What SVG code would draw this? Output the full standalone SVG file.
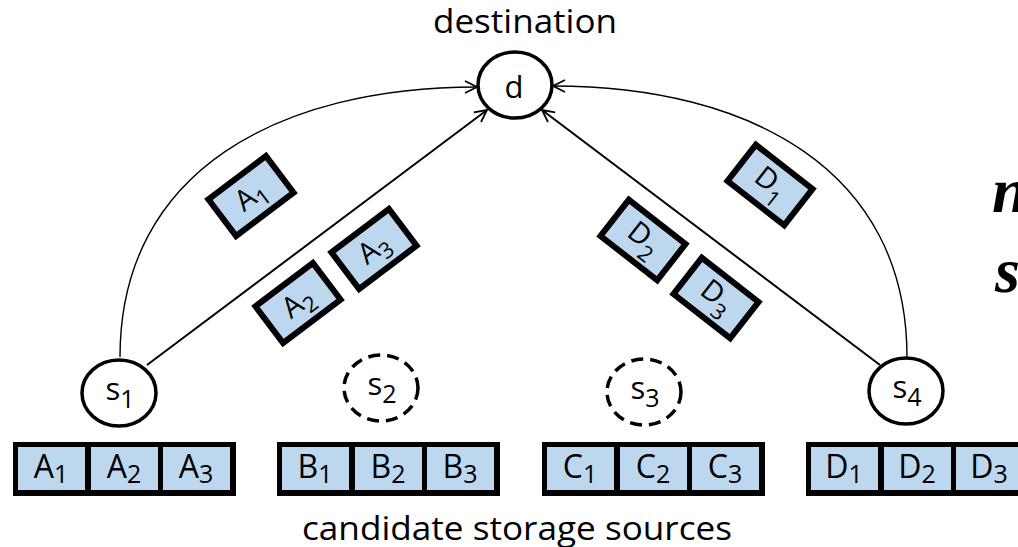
<svg xmlns="http://www.w3.org/2000/svg" width="1018" height="547" viewBox="0 0 1018 547">
  <style>
    .lbl { font-family: "Open Sans", "Noto Sans", sans-serif; fill: #000; }
    .node { fill: #fff; stroke: #000; stroke-width: 3.5; }
    .idle { fill: #fff; stroke: #000; stroke-width: 3.5; stroke-dasharray: 12 7; }
    .frame { fill: #000; }
    .cell { fill: #bdd7ee; }
    .chunk { fill: #bdd7ee; stroke: #000; stroke-width: 6; }
    .link { fill: none; stroke: #000; stroke-width: 2; }
    .arc { fill: none; stroke: #000; stroke-width: 1.4; }
    .big { font-family: "Liberation Serif", "Times New Roman", serif; font-style: italic; font-weight: bold; font-size: 64px; fill: #000; }
  </style>
  <defs>
    <marker id="head" markerUnits="userSpaceOnUse" markerWidth="16" markerHeight="16" refX="13" refY="7" orient="auto">
      <path d="M1,1 L13,7 L1,13" fill="none" stroke="#000" stroke-width="1.8"/>
    </marker>
  </defs>

  <!-- captions -->
  <text class="lbl" x="525" y="33" font-size="32" text-anchor="middle" textLength="184" lengthAdjust="spacingAndGlyphs">destination</text>
  <text class="lbl" x="517" y="540" font-size="32" text-anchor="middle" textLength="430" lengthAdjust="spacingAndGlyphs">candidate storage sources</text>
  <text class="big" x="992" y="212">n</text>
  <text class="big" x="995" y="292">s</text>

  <!-- connectors -->
  <g id="connectors">
    <path class="arc" d="M120,357 C120,170 280,87 477,87" marker-end="url(#head)"/>
    <path class="arc" d="M907,357 C907,170 750,86 553,86" marker-end="url(#head)"/>
    <line class="link" x1="147" y1="365" x2="487" y2="110" marker-end="url(#head)"/>
    <line class="link" x1="880" y1="365" x2="542" y2="110" marker-end="url(#head)"/>
  </g>

  <!-- destination -->
  <g id="node-d">
    <ellipse class="node" cx="515" cy="85" rx="37" ry="33"/>
    <text class="lbl" x="514" y="98" font-size="31" text-anchor="middle">d</text>
  </g>

  <!-- sources -->
  <g id="node-s1">
    <ellipse class="node" cx="119" cy="393" rx="37" ry="33"/>
    <text class="lbl" x="120" y="400" font-size="31" text-anchor="middle">s<tspan font-size="25" dy="8">1</tspan></text>
  </g>
  <g id="node-s2">
    <ellipse class="idle" cx="381" cy="388" rx="37" ry="33"/>
    <text class="lbl" x="382" y="395" font-size="31" text-anchor="middle">s<tspan font-size="25" dy="8">2</tspan></text>
  </g>
  <g id="node-s3">
    <ellipse class="idle" cx="644" cy="392" rx="37" ry="33"/>
    <text class="lbl" x="645" y="399" font-size="31" text-anchor="middle">s<tspan font-size="25" dy="8">3</tspan></text>
  </g>
  <g id="node-s4">
    <ellipse class="node" cx="906" cy="391" rx="37" ry="33"/>
    <text class="lbl" x="907" y="398" font-size="31" text-anchor="middle">s<tspan font-size="25" dy="8">4</tspan></text>
  </g>

  <!-- stored chunks per source -->
  <g id="store-a">
    <rect class="frame" x="13" y="442" width="223" height="54"/>
    <rect class="cell" x="18" y="447" width="67" height="43"/>
    <rect class="cell" x="91" y="447" width="67" height="43"/>
    <rect class="cell" x="163" y="447" width="67" height="43"/>
    <text class="lbl" x="51" y="478" font-size="32" text-anchor="middle">A<tspan font-size="25" dy="5">1</tspan></text>
    <text class="lbl" x="124" y="478" font-size="32" text-anchor="middle">A<tspan font-size="25" dy="5">2</tspan></text>
    <text class="lbl" x="196" y="478" font-size="32" text-anchor="middle">A<tspan font-size="25" dy="5">3</tspan></text>
  </g>
  <g id="store-b">
    <rect class="frame" x="277" y="442" width="223" height="54"/>
    <rect class="cell" x="282" y="447" width="67" height="43"/>
    <rect class="cell" x="355" y="447" width="67" height="43"/>
    <rect class="cell" x="427" y="447" width="67" height="43"/>
    <text class="lbl" x="315" y="478" font-size="32" text-anchor="middle">B<tspan font-size="25" dy="5">1</tspan></text>
    <text class="lbl" x="388" y="478" font-size="32" text-anchor="middle">B<tspan font-size="25" dy="5">2</tspan></text>
    <text class="lbl" x="460" y="478" font-size="32" text-anchor="middle">B<tspan font-size="25" dy="5">3</tspan></text>
  </g>
  <g id="store-c">
    <rect class="frame" x="542" y="442" width="223" height="54"/>
    <rect class="cell" x="547" y="447" width="67" height="43"/>
    <rect class="cell" x="620" y="447" width="67" height="43"/>
    <rect class="cell" x="692" y="447" width="67" height="43"/>
    <text class="lbl" x="580" y="478" font-size="32" text-anchor="middle">C<tspan font-size="25" dy="5">1</tspan></text>
    <text class="lbl" x="653" y="478" font-size="32" text-anchor="middle">C<tspan font-size="25" dy="5">2</tspan></text>
    <text class="lbl" x="725" y="478" font-size="32" text-anchor="middle">C<tspan font-size="25" dy="5">3</tspan></text>
  </g>
  <g id="store-d">
    <rect class="frame" x="806" y="442" width="223" height="54"/>
    <rect class="cell" x="811" y="447" width="67" height="43"/>
    <rect class="cell" x="884" y="447" width="67" height="43"/>
    <rect class="cell" x="956" y="447" width="67" height="43"/>
    <text class="lbl" x="844" y="478" font-size="32" text-anchor="middle">D<tspan font-size="25" dy="5">1</tspan></text>
    <text class="lbl" x="917" y="478" font-size="32" text-anchor="middle">D<tspan font-size="25" dy="5">2</tspan></text>
    <text class="lbl" x="989" y="478" font-size="32" text-anchor="middle">D<tspan font-size="25" dy="5">3</tspan></text>
  </g>

  <!-- chunks in transit -->
  <g id="chunk-a1" transform="translate(251,196) rotate(-37)">
    <rect class="chunk" x="-36" y="-23" width="72" height="46"/>
    <text class="lbl" x="0" y="9" font-size="29" text-anchor="middle">A<tspan font-size="22" dy="7">1</tspan></text>
  </g>
  <g id="chunk-a2" transform="translate(298,303) rotate(-37)">
    <rect class="chunk" x="-36" y="-23" width="72" height="46"/>
    <text class="lbl" x="0" y="9" font-size="29" text-anchor="middle">A<tspan font-size="22" dy="7">2</tspan></text>
  </g>
  <g id="chunk-a3" transform="translate(374,249) rotate(-37)">
    <rect class="chunk" x="-36" y="-23" width="72" height="46"/>
    <text class="lbl" x="0" y="9" font-size="29" text-anchor="middle">A<tspan font-size="22" dy="7">3</tspan></text>
  </g>
  <g id="chunk-d1" transform="translate(770,185) rotate(38)">
    <rect class="chunk" x="-36" y="-23" width="72" height="46"/>
    <text class="lbl" x="0" y="7" font-size="29" text-anchor="middle">D<tspan font-size="22" dy="10">1</tspan></text>
  </g>
  <g id="chunk-d2" transform="translate(643,240) rotate(38)">
    <rect class="chunk" x="-36" y="-23" width="72" height="46"/>
    <text class="lbl" x="0" y="7" font-size="29" text-anchor="middle">D<tspan font-size="22" dy="10">2</tspan></text>
  </g>
  <g id="chunk-d3" transform="translate(716,298) rotate(38)">
    <rect class="chunk" x="-36" y="-23" width="72" height="46"/>
    <text class="lbl" x="0" y="7" font-size="29" text-anchor="middle">D<tspan font-size="22" dy="10">3</tspan></text>
  </g>
</svg>
